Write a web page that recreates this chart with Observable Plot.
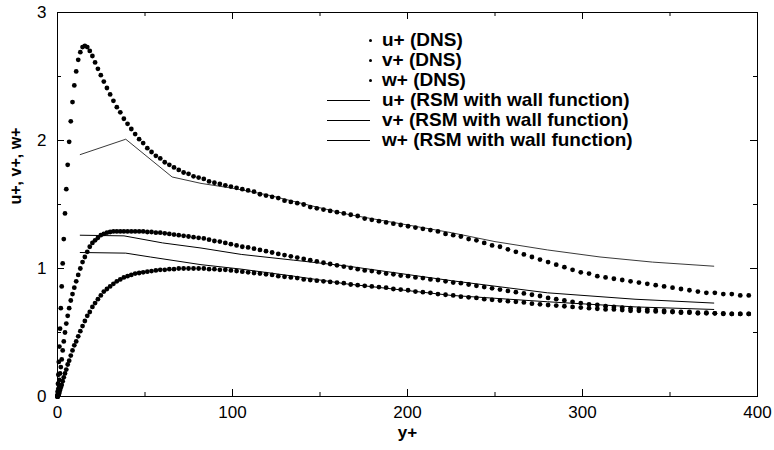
<!DOCTYPE html>
<html><head><meta charset="utf-8">
<script src="https://cdn.jsdelivr.net/npm/d3@7"></script>
<script src="https://cdn.jsdelivr.net/npm/@observablehq/plot@0.6"></script>
<style>
body{margin:0;background:#fff;}
#chart{position:relative;width:774px;height:450px;font-family:"Liberation Sans",Arial,sans-serif;}
.lt{position:absolute;font-weight:bold;font-size:19px;line-height:20px;white-space:nowrap;color:#000;}
.ld{position:absolute;width:3px;height:3px;border-radius:50%;background:#000;}
.ll{position:absolute;height:1px;background:#000;}
</style></head><body><div id="chart"></div>
<script>
// DNS wall-normal positions (y+)
const yPlus = [0,0.03,0.12,0.27,0.48,0.74,1.07,1.46,1.90,2.41,2.97,3.59,4.28,5.02,5.82,6.67,7.59,8.57,9.60,10.69,11.84,13.04,14.31,15.63,17.01,18.44,19.94,21.48,23.09,24.75,26.47,28.24,30.07,31.95,33.89,35.88,37.92,40.02,42.18,44.38,46.64,48.95,51.32,53.73,56.20,58.71,61.28,63.90,66.57,69.29,72.06,74.87,77.73,80.64,83.60,86.61,89.66,92.76,95.90,99.09,102.33,105.60,108.92,112.29,115.69,119.15,122.63,126.16,129.73,133.34,137.00,140.69,144.42,148.18,151.99,155.82,159.70,163.61,167.56,171.54,175.55,179.59,183.67,187.78,191.93,196.10,200.31,204.54,208.79,213.09,217.40,221.74,226.12,230.51,234.93,239.38,243.84,248.33,252.84,257.37,261.93,266.50,271.10,275.71,280.34,284.99,289.65,294.33,299.02,303.73,308.46,313.19,317.94,322.70,327.46,332.25,337.03,341.83,346.63,351.45,356.28,361.11,365.94,370.78,375.62,380.46,385.31,390.15,395.00];
const uDNS = [0,0.01,0.04,0.10,0.17,0.27,0.39,0.53,0.69,0.86,1.04,1.23,1.43,1.62,1.81,1.99,2.15,2.30,2.43,2.54,2.63,2.69,2.73,2.74,2.73,2.70,2.66,2.61,2.56,2.51,2.46,2.41,2.36,2.31,2.26,2.22,2.17,2.13,2.09,2.05,2.01,1.98,1.94,1.91,1.88,1.86,1.83,1.81,1.79,1.77,1.75,1.74,1.72,1.71,1.70,1.68,1.67,1.66,1.65,1.64,1.63,1.62,1.61,1.60,1.58,1.57,1.56,1.55,1.53,1.52,1.51,1.50,1.48,1.47,1.46,1.45,1.44,1.43,1.42,1.41,1.39,1.38,1.37,1.36,1.35,1.34,1.33,1.32,1.31,1.30,1.29,1.27,1.26,1.25,1.23,1.22,1.20,1.18,1.17,1.15,1.13,1.11,1.09,1.07,1.05,1.03,1.01,0.99,0.97,0.96,0.94,0.93,0.92,0.91,0.90,0.89,0.88,0.87,0.86,0.85,0.84,0.83,0.82,0.81,0.81,0.80,0.80,0.79,0.79];
const vDNS = [0,0,0,0.01,0.01,0.02,0.03,0.05,0.07,0.09,0.12,0.15,0.18,0.21,0.25,0.28,0.32,0.36,0.40,0.43,0.47,0.51,0.55,0.59,0.63,0.66,0.70,0.73,0.76,0.79,0.82,0.84,0.86,0.88,0.90,0.915,0.93,0.94,0.95,0.96,0.965,0.97,0.975,0.98,0.985,0.99,0.99,0.995,0.995,1.0,1.0,1.0,1.0,1.0,1.0,0.995,0.995,0.99,0.99,0.985,0.98,0.975,0.97,0.965,0.96,0.955,0.95,0.94,0.935,0.93,0.925,0.915,0.91,0.905,0.90,0.895,0.89,0.885,0.875,0.87,0.865,0.86,0.855,0.85,0.84,0.835,0.83,0.82,0.815,0.81,0.80,0.795,0.79,0.78,0.775,0.77,0.76,0.755,0.75,0.745,0.74,0.735,0.725,0.72,0.715,0.71,0.705,0.70,0.695,0.69,0.685,0.68,0.68,0.675,0.67,0.67,0.665,0.665,0.66,0.66,0.655,0.655,0.65,0.65,0.65,0.645,0.645,0.645,0.645];
const wDNS = [0,0,0.01,0.03,0.06,0.09,0.13,0.18,0.23,0.29,0.36,0.43,0.50,0.57,0.63,0.69,0.75,0.80,0.85,0.90,0.95,1.0,1.05,1.09,1.13,1.17,1.20,1.22,1.24,1.26,1.27,1.28,1.285,1.29,1.29,1.29,1.29,1.29,1.29,1.29,1.29,1.29,1.285,1.285,1.28,1.28,1.275,1.27,1.265,1.26,1.255,1.25,1.245,1.24,1.235,1.225,1.215,1.21,1.20,1.19,1.18,1.17,1.165,1.155,1.145,1.135,1.125,1.115,1.105,1.095,1.085,1.075,1.065,1.055,1.045,1.035,1.025,1.015,1.005,0.995,0.985,0.98,0.97,0.96,0.955,0.945,0.94,0.93,0.925,0.915,0.91,0.90,0.89,0.885,0.875,0.865,0.855,0.845,0.835,0.825,0.815,0.805,0.795,0.785,0.77,0.76,0.75,0.74,0.73,0.72,0.715,0.705,0.70,0.695,0.69,0.685,0.68,0.675,0.67,0.665,0.66,0.66,0.655,0.655,0.65,0.65,0.645,0.645,0.645];
// RSM with wall function
const rsmUy = [13,39,65.5,82,101,120,145,167,200,225,250,280,310,340,375];
const rsmU  = [1.89,2.01,1.715,1.665,1.625,1.575,1.49,1.42,1.34,1.28,1.21,1.145,1.09,1.05,1.018];
const rsmVy = [13,39,53,82,105,135,165,225,280,330,375];
const rsmV  = [1.125,1.12,1.09,1.03,0.995,0.94,0.88,0.79,0.74,0.70,0.68];
const rsmWy = [13,38,60,82,105,135,165,225,280,330,375];
const rsmW  = [1.26,1.255,1.20,1.16,1.11,1.065,1.02,0.905,0.81,0.76,0.73];
// axes
const xMajor = [0,100,200,300,400];
const xMinor = [50,150,250,350];
const yMajor = [0,1,2,3];
const yMinor = [0.5,1.5,2.5];
const xTitle = "y+";
const yTitle = "u+, v+, w+";
const dnsLabels = ["u+ (DNS)","v+ (DNS)","w+ (DNS)"];
const rsmLabels = ["u+ (RSM with wall function)","v+ (RSM with wall function)","w+ (RSM with wall function)"];

const toPts = (xs, vs) => xs.map((x, i) => ({x, v: vs[i]}));
const FF = '"Liberation Sans", Arial, sans-serif';
const W = 774, H = 450, mL = 57, mR = 17, mT = 12, mB = 54;
const iw = W - mL - mR, ih = H - mT - mB;
const maj = 7, mnr = 4;

const plot = Plot.plot({
  width: W, height: H,
  marginLeft: mL, marginRight: mR, marginTop: mT, marginBottom: mB,
  style: {fontFamily: FF, background: "#fff", color: "#000", overflow: "visible"},
  x: {domain: [0, 400]},
  y: {domain: [0, 3]},
  marks: [
    Plot.line(toPts(rsmUy, rsmU), {x: "x", y: "v", stroke: "#222", strokeWidth: 0.9}),
    Plot.line(toPts(rsmVy, rsmV), {x: "x", y: "v", stroke: "#000", strokeWidth: 1}),
    Plot.line(toPts(rsmWy, rsmW), {x: "x", y: "v", stroke: "#000", strokeWidth: 1}),
    Plot.dot(toPts(yPlus, uDNS), {x: "x", y: "v", r: 2.4, fill: "#000", stroke: "none"}),
    Plot.dot(toPts(yPlus, vDNS), {x: "x", y: "v", r: 2.4, fill: "#000", stroke: "none"}),
    Plot.dot(toPts(yPlus, wDNS), {x: "x", y: "v", r: 2.4, fill: "#000", stroke: "none"}),
    Plot.frame({stroke: "#000", strokeWidth: 1}),
    Plot.ruleX(xMajor, {insetTop: ih - maj, stroke: "#000"}),
    Plot.ruleX(xMajor, {insetBottom: ih - maj, stroke: "#000"}),
    Plot.ruleX(xMinor, {insetTop: ih - mnr, stroke: "#000"}),
    Plot.ruleX(xMinor, {insetBottom: ih - mnr, stroke: "#000"}),
    Plot.ruleY(yMajor, {insetRight: iw - maj, stroke: "#000"}),
    Plot.ruleY(yMajor, {insetLeft: iw - maj, stroke: "#000"}),
    Plot.ruleY(yMinor, {insetRight: iw - mnr, stroke: "#000"}),
    Plot.ruleY(yMinor, {insetLeft: iw - mnr, stroke: "#000"}),
    Plot.axisX(xMajor, {anchor: "bottom", tickSize: 0, tickPadding: 9, fontSize: 17, label: null, tickFormat: d3.format("d")}),
    Plot.axisY(yMajor, {anchor: "left", tickSize: 0, tickPadding: 11, fontSize: 17, label: null, tickFormat: d3.format("d")}),
    Plot.text([xTitle], {frameAnchor: "bottom", dy: 41, fontWeight: "bold", fontSize: 17}),
    Plot.text([yTitle], {frameAnchor: "left", dx: -42, rotate: -90, fontWeight: "bold", fontSize: 16})
  ]
});
const root = document.getElementById("chart");
root.appendChild(plot);

// legend overlay
const rowY0 = 40, rowStep = 20, textX = 382, dotX = 370, lineX0 = 327, lineX1 = 370;
const rows = dnsLabels.map(l => ({label: l, kind: "dot"})).concat(rsmLabels.map(l => ({label: l, kind: "line"})));
rows.forEach((r, i) => {
  const yc = rowY0 + rowStep * i;
  const t = document.createElement("div");
  t.className = "lt"; t.textContent = r.label;
  t.style.left = textX + "px"; t.style.top = (yc - 10) + "px";
  root.appendChild(t);
  const s = document.createElement("div");
  if (r.kind === "dot") {
    s.className = "ld"; s.style.left = (dotX - 1.5) + "px"; s.style.top = (yc - 1.5) + "px";
  } else {
    s.className = "ll"; s.style.left = lineX0 + "px"; s.style.width = (lineX1 - lineX0) + "px"; s.style.top = (yc - 0.5) + "px";
  }
  root.appendChild(s);
});
</script></body></html>
